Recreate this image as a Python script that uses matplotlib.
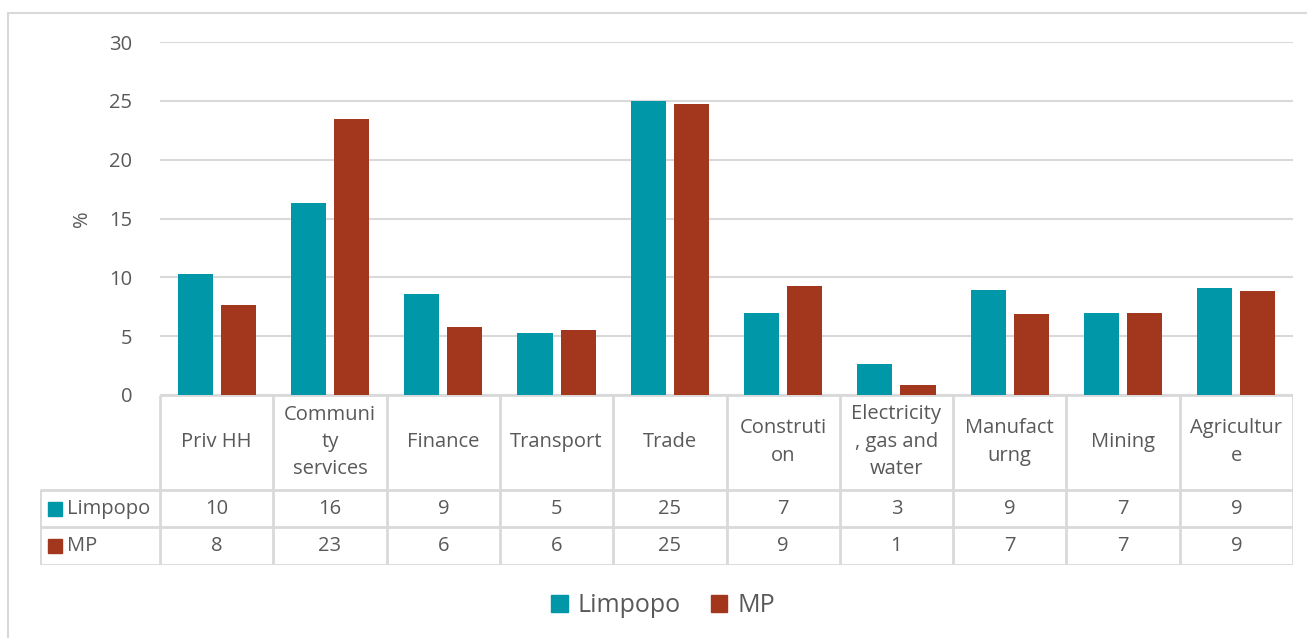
import matplotlib
matplotlib.use("Agg")
import matplotlib.pyplot as plt
from matplotlib.patches import Rectangle
import numpy as np

categories = ["Priv HH", "Communi\nty\nservices", "Finance", "Transport", "Trade",
              "Construti\non", "Electricity\n, gas and\nwater", "Manufact\nurng",
              "Mining", "Agricultur\ne"]
limpopo = [10.3, 16.3, 8.6, 5.3, 25.0, 7.0, 2.6, 8.9, 7.0, 9.1]
mp = [7.65, 23.45, 5.8, 5.5, 24.7, 9.25, 0.85, 6.9, 7.0, 8.85]
series_names = ["Limpopo", "MP"]
colors = ["#0097A8", "#A3371E"]

plt.rcParams['font.family'] = ['Open Sans', 'DejaVu Sans']
txt = "#595959"
grid_c = "#D9D9D9"
fs = 14.5

W, H = 1307, 638
fig = plt.figure(figsize=(W / 100, H / 100), dpi=100)

def fx(px):
    return px / W

def fy(py):
    return 1 - py / H

# outer chart border
fig.patches.append(Rectangle((fx(8), fy(650)), fx(1320) - fx(8), fy(13) - fy(650),
                             transform=fig.transFigure, fill=False,
                             edgecolor=grid_c, lw=1.5))

L, R, T, B = 160, 1293, 42, 395
ax = fig.add_axes([fx(L), fy(B), fx(R) - fx(L), fy(T) - fy(B)])
n = len(categories)
x = np.arange(n)
w = 0.31
ax.bar(x - 0.19, limpopo, w, color=colors[0], zorder=3)
ax.bar(x + 0.19, mp, w, color=colors[1], zorder=3)
ax.set_xlim(-0.5, n - 0.5)
ax.set_ylim(0, 30)
ax.set_yticks(range(0, 31, 5))
ax.yaxis.grid(True, color=grid_c, lw=1.5)
ax.set_axisbelow(True)
for s in ax.spines.values():
    s.set_visible(False)
ax.tick_params(axis='y', length=0, labelsize=fs, labelcolor=txt, pad=20)
ax.set_xticks([])
ax.set_ylabel("%", fontsize=fs, color=txt, labelpad=12)

# data table
unit = (R - L) / n
TL = 40
tb = fig.add_axes([fx(TL), fy(565), fx(R) - fx(TL), fy(395) - fy(565)])
tb.set_xlim(-0.5 - (L - TL) / unit, n - 0.5)
tb.set_ylim(565, 395)
tb.axis('off')
lc = dict(color=grid_c, lw=2, solid_capstyle='butt')
x0 = -0.5 - (L - TL) / unit
tb.plot([-0.5, n - 0.5], [395, 395], **lc)
for yy in (490, 527, 565):
    tb.plot([x0, n - 0.5], [yy, yy], **lc)
for k in range(n + 1):
    tb.plot([k - 0.5, k - 0.5], [395, 565], **lc)
tb.plot([x0, x0], [490, 565], **lc)

for i, c in enumerate(categories):
    tb.text(i, 442, c, ha='center', va='center', fontsize=fs, color=txt, linespacing=1.5)
    tb.text(i, 509, f"{limpopo[i]:.0f}", ha='center', va='center', fontsize=fs, color=txt)
    tb.text(i, 546, f"{mp[i]:.0f}", ha='center', va='center', fontsize=fs, color=txt)

for row_y, name, col in ((509, "Limpopo", colors[0]), (546, "MP", colors[1])):
    sx = x0 + 8 / unit
    tb.add_patch(Rectangle((sx, row_y - 7), 14 / unit, 14, color=col))
    tb.text(sx + 19 / unit, row_y, name, ha='left', va='center', fontsize=fs, color=txt)

# legend
handles = [Rectangle((0, 0), 1, 1, color=c) for c in colors]
fig.legend(handles, series_names, loc='center', bbox_to_anchor=(fx(663), fy(606)),
           ncol=2, frameon=False, fontsize=18, labelcolor=txt,
           handlelength=0.65, handleheight=0.65, handletextpad=0.4, columnspacing=1.2)

fig.savefig("out.png", dpi=100)
